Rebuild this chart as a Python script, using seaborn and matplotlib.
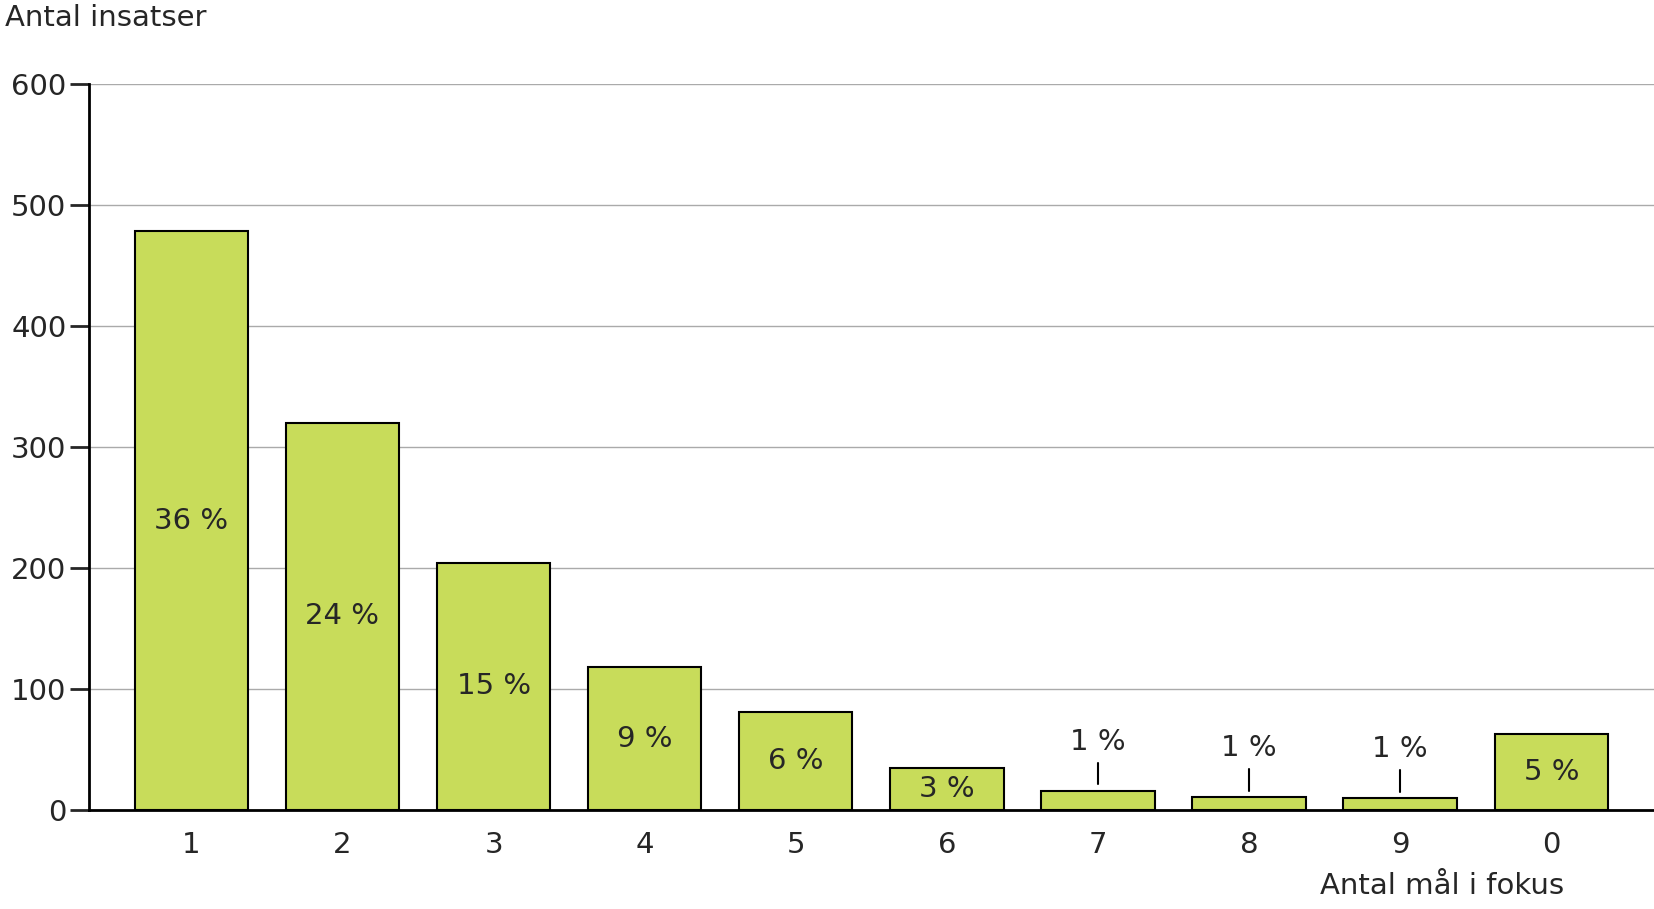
import matplotlib
matplotlib.use("Agg")
import matplotlib.pyplot as plt
import seaborn as sns
import pandas as pd

categories = ["1", "2", "3", "4", "5", "6", "7", "8", "9", "0"]
counts = [478, 320, 204, 118, 81, 35, 16, 11, 10, 63]
percent_labels = ["36 %", "24 %", "15 %", "9 %", "6 %", "3 %", "1 %", "1 %", "1 %", "5 %"]
outside = [False, False, False, False, False, False, True, True, True, False]

df = pd.DataFrame({"mal": categories, "antal": counts})

sns.set_style("white")
plt.rcParams["font.family"] = ["DejaVu Sans"]

fig = plt.figure(figsize=(16.54, 9.09), dpi=100)
ax = fig.add_axes([0.0536, 0.109, 0.9464, 0.799])

sns.barplot(data=df, x="mal", y="antal", order=categories, color="#c8dc5a",
            saturation=1, width=0.75, edgecolor="black", linewidth=1.5, ax=ax)

ax.set_ylim(0, 600)
ax.set_xlim(-0.68, 9.68)
ax.set_yticks(range(0, 601, 100))
ax.yaxis.grid(True, color="#aaaaaa", linewidth=1)
ax.set_axisbelow(True)
for s in ["top", "right"]:
    ax.spines[s].set_visible(False)
ax.spines["left"].set_linewidth(2)
ax.spines["bottom"].set_linewidth(2)
ax.spines["left"].set_color("black")
ax.spines["bottom"].set_color("black")
ax.tick_params(axis="y", left=True, length=14, width=2, labelsize=21, pad=2)
ax.tick_params(axis="x", bottom=False, labelsize=21, pad=12)
ax.set_xlabel("")
ax.set_ylabel("")

for i, (v, lab, out) in enumerate(zip(counts, percent_labels, outside)):
    if out:
        ax.plot([i, i], [v + 5, v + 23], color="black", linewidth=1.5)
        ax.text(i, v + 40, lab, ha="center", va="center", fontsize=21)
    else:
        ax.text(i, v / 2, lab, ha="center", va="center", fontsize=21)

fig.text(0.003, 0.98, "Antal insatser", ha="left", va="center", fontsize=21)
fig.text(0.872, 0.025, "Antal mål i fokus", ha="center", va="center", fontsize=21)

fig.savefig("out.png", dpi=100)
